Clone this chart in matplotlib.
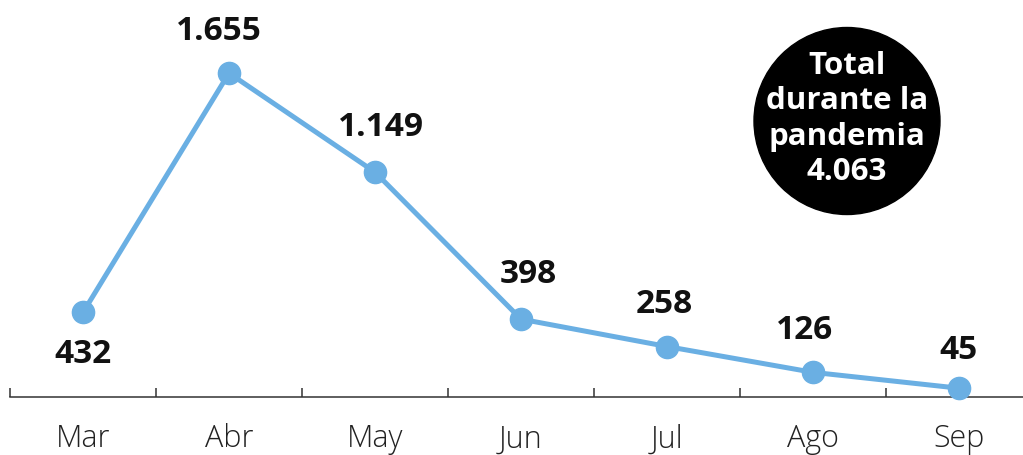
import matplotlib
matplotlib.use('Agg')
import matplotlib.pyplot as plt
from matplotlib.patches import Ellipse

months = ['Mar', 'Abr', 'May', 'Jun', 'Jul', 'Ago', 'Sep']
values = [432, 1655, 1149, 398, 258, 126, 45]
value_labels = ['432', '1.655', '1.149', '398', '258', '126', '45']
total_text = 'Total\ndurante la\npandemia\n4.063'

plt.rcParams['font.family'] = ['Open Sans', 'DejaVu Sans']

fig = plt.figure(figsize=(10.23, 4.55), dpi=100)
ax = fig.add_axes([10 / 1023, 58 / 455, 1013 / 1023, 397 / 455])

x = list(range(len(months)))
ax.plot(x, values, color='#6aafe3', lw=3.6, marker='o', markersize=16,
        solid_capstyle='round', clip_on=False, zorder=3)

# value labels: first one below the point, others above (small sideways nudges as in the original)
nudges = [(0, -30), (-7, 30), (4, 32), (5, 32), (-2, 30), (-6, 30), (0, 27)]
for i, (v, lab) in enumerate(zip(values, value_labels)):
    ax.annotate(lab, (i, v), xytext=nudges[i], textcoords='offset points',
                ha='center', va='center', fontsize=24, fontweight='bold', color='#111111')

ax.set_xlim(-0.5, -0.5 + 1013 / 146)
ax.set_ylim(0, 397 / 0.1957)

for s in ['top', 'right', 'left']:
    ax.spines[s].set_visible(False)
ax.spines['bottom'].set_color('#333333')
ax.spines['bottom'].set_linewidth(1.1)
ax.set_yticks([])

ax.set_xticks(x)
ax.set_xticklabels(months, fontsize=22, color='#222222', fontweight='light')
ax.tick_params(axis='x', which='major', length=0, pad=19)
ax.set_xticks([i - 0.5 for i in range(len(months))], minor=True)
ax.tick_params(axis='x', which='minor', direction='in', length=6.5, width=1.1, color='#333333')

# black circle with total
fig.add_artist(Ellipse((847 / 1023, 1 - 121 / 455), 186 / 1023, 187 / 455,
                       transform=fig.transFigure, color='black'))
fig.text(847 / 1023, 1 - 119 / 455, total_text, ha='center', va='center', color='white',
         fontsize=22.5, fontweight='bold', linespacing=1.22)

fig.savefig('out.png', dpi=100)
